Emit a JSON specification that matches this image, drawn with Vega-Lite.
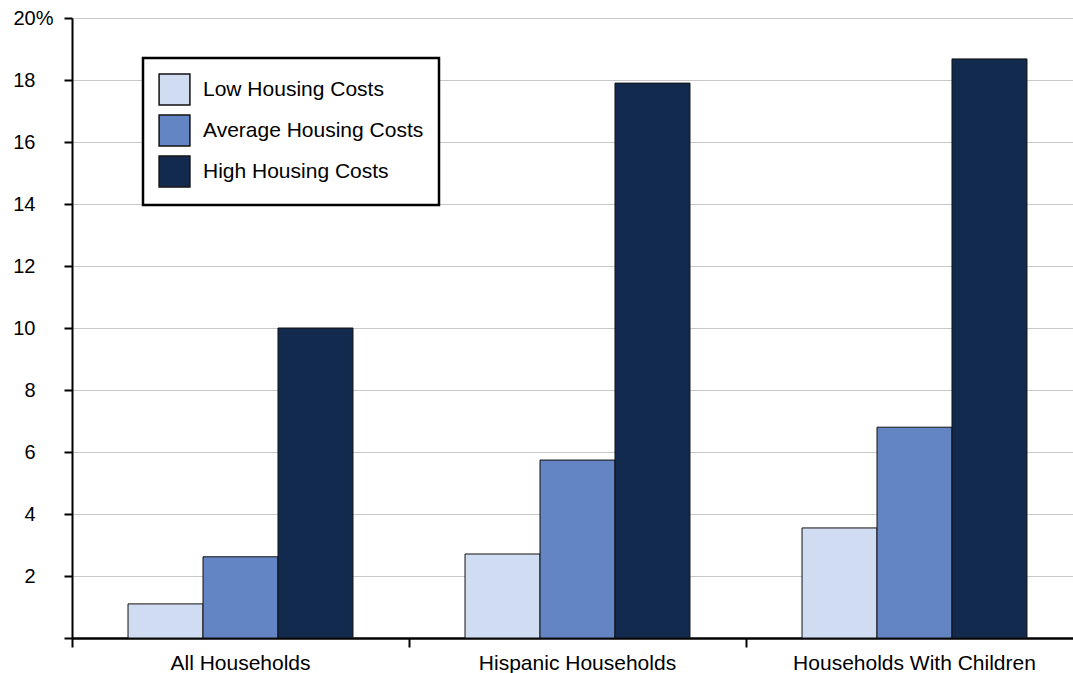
{
  "$schema": "https://vega.github.io/schema/vega-lite/v6.json",
  "width": 1011,
  "height": 620,
  "autosize": {"type": "none"},
  "padding": {"left": 72, "top": 18, "right": 0, "bottom": 35},
  "background": "white",
  "config": {
    "view": {"stroke": null},
    "font": "Liberation Sans",
    "axis": {"labelFont": "Liberation Sans", "labelColor": "black"},
    "legend": {"labelFont": "Liberation Sans"}
  },
  "data": {
    "values": [
      {"group": "All Households", "cost": "Low Housing Costs", "value": 1.1},
      {"group": "All Households", "cost": "Average Housing Costs", "value": 2.62},
      {"group": "All Households", "cost": "High Housing Costs", "value": 10.0},
      {"group": "Hispanic Households", "cost": "Low Housing Costs", "value": 2.71},
      {"group": "Hispanic Households", "cost": "Average Housing Costs", "value": 5.74},
      {"group": "Hispanic Households", "cost": "High Housing Costs", "value": 17.9},
      {"group": "Households With Children", "cost": "Low Housing Costs", "value": 3.55},
      {"group": "Households With Children", "cost": "Average Housing Costs", "value": 6.8},
      {"group": "Households With Children", "cost": "High Housing Costs", "value": 18.68}
    ]
  },
  "mark": {"type": "bar", "stroke": "#111111", "strokeWidth": 1},
  "encoding": {
    "x": {
      "field": "group",
      "type": "nominal",
      "sort": ["All Households", "Hispanic Households", "Households With Children"],
      "scale": {"paddingInner": 0, "paddingOuter": 0},
      "axis": {
        "title": null,
        "labelAngle": 0,
        "labelFontSize": 21,
        "labelLimit": 500,
        "labelPadding": 5,
        "domainColor": "black",
        "domainWidth": 2.5,
        "tickColor": "black",
        "tickWidth": 2,
        "tickSize": 9,
        "bandPosition": 0,
        "grid": false
      }
    },
    "xOffset": {
      "field": "cost",
      "type": "nominal",
      "sort": ["Low Housing Costs", "Average Housing Costs", "High Housing Costs"],
      "scale": {"paddingInner": 0, "paddingOuter": 0.747}
    },
    "y": {
      "field": "value",
      "type": "quantitative",
      "scale": {"domain": [0, 20], "nice": false},
      "axis": {
        "title": null,
        "values": [0, 2, 4, 6, 8, 10, 12, 14, 16, 18, 20],
        "labelExpr": "datum.value == 20 ? '20%' : (datum.value == 0 ? '' : datum.label)",
        "labelFontSize": 20,
        "labelPadding": {"condition": {"test": "datum.value == 20", "value": 11}, "value": 29},
        "domainColor": "black",
        "domainWidth": 2,
        "tickColor": "black",
        "tickWidth": 2,
        "tickSize": 8,
        "grid": true,
        "gridColor": "#c8c8c8",
        "gridWidth": 1
      }
    },
    "color": {
      "field": "cost",
      "type": "nominal",
      "sort": ["Low Housing Costs", "Average Housing Costs", "High Housing Costs"],
      "scale": {
        "domain": ["Low Housing Costs", "Average Housing Costs", "High Housing Costs"],
        "range": ["#D0DCF2", "#6385C3", "#132A4F"]
      },
      "legend": {
        "title": null,
        "orient": "none",
        "legendX": 71,
        "legendY": 40,
        "padding": 15,
        "strokeColor": "black",
        "fillColor": "white",
        "symbolType": "square",
        "symbolSize": 950,
        "symbolStrokeColor": "#111111",
        "symbolStrokeWidth": 1.5,
        "symbolOffset": 0,
        "labelFontSize": 21,
        "labelOffset": 12,
        "labelColor": "black",
        "rowPadding": 4,
        "labelLimit": 400,
        "encode": {"legend": {"update": {"strokeWidth": {"value": 2.5}}}}
      }
    }
  }
}
